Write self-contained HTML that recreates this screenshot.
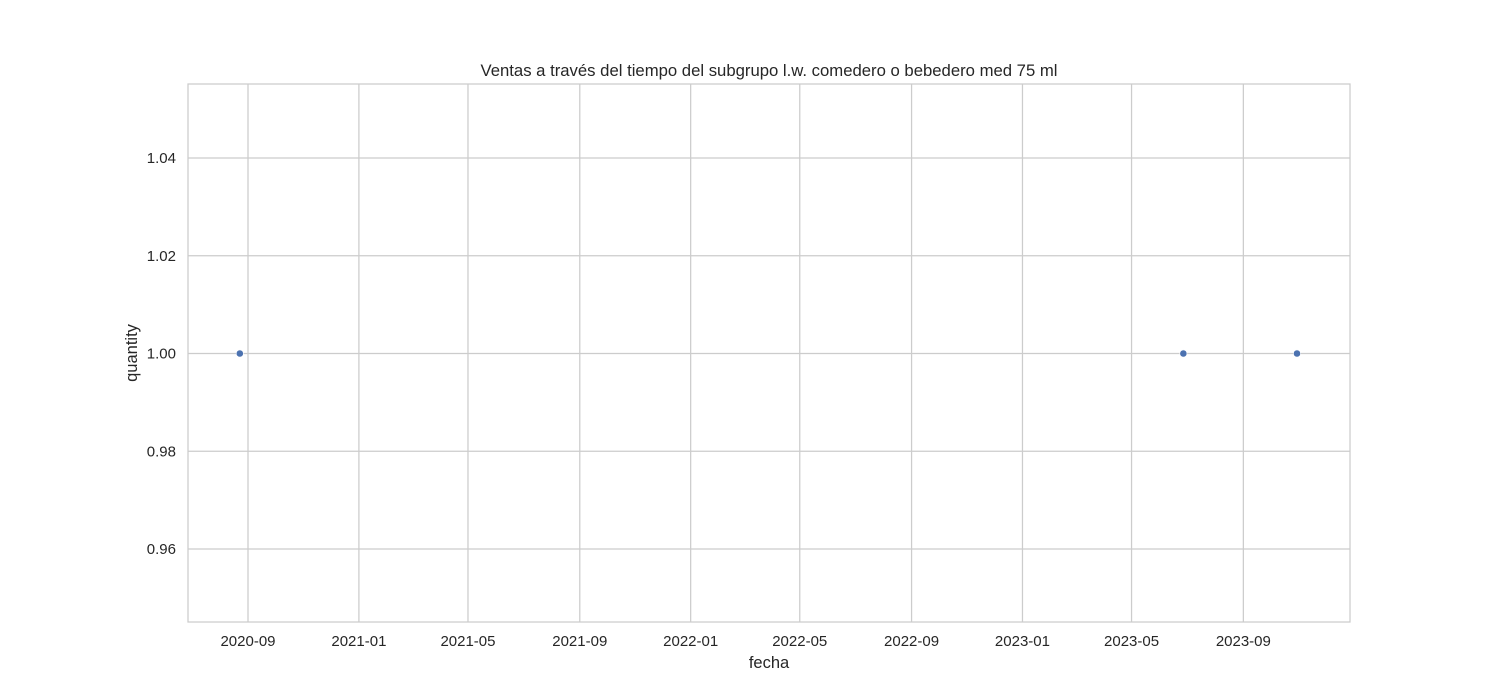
<!DOCTYPE html>
<html><head><meta charset="utf-8"><style>
body{margin:0;background:#fff;}
svg{display:block;font-family:"Liberation Sans","DejaVu Sans",sans-serif;}
</style></head><body>
<svg id="chart" width="1500" height="700">
<text x="769" y="76" text-anchor="middle" font-size="16.7" fill="#262626">Ventas a través del tiempo del subgrupo l.w. comedero o bebedero med 75 ml</text>
<g id="grid"></g>
<rect x="188" y="84" width="1162" height="538" fill="none" stroke="#cccccc" stroke-width="1.25"/>
<g id="marks"></g>
<text x="769" y="668" text-anchor="middle" font-size="16.5" fill="#262626">fecha</text>
<text transform="translate(137,353) rotate(-90)" text-anchor="middle" font-size="16.5" fill="#262626">quantity</text>
</svg>
<script>
const xTickLabels=["2020-09","2021-01","2021-05","2021-09","2022-01","2022-05","2022-09","2023-01","2023-05","2023-09"];
const yTickValues=[0.96,0.98,1.00,1.02,1.04];
const pointDates=["2020-08-23","2023-06-27","2023-10-30"];
const pointValues=[1,1,1];
const NS="http://www.w3.org/2000/svg";
const DAY=86400000;
const origin=Date.UTC(2020,8,1);
function xScale(s){const p=s.split("-").map(Number);const t=Date.UTC(p[0],p[1]-1,p[2]||1);return 248+(t-origin)/DAY*0.909;}
function yScale(v){return 353.5-(v-1)*4887.5;}
const grid=document.getElementById("grid"),marks=document.getElementById("marks");
function mk(tag,attrs,parent){const e=document.createElementNS(NS,tag);for(const k in attrs)e.setAttribute(k,attrs[k]);parent.appendChild(e);return e;}
xTickLabels.forEach(l=>{
 const x=xScale(l);
 const g=mk("line",{x1:x,x2:x,y1:84,y2:622,stroke:"#cccccc","stroke-width":1.25},grid);
 
 
 const t=mk("text",{x:x,y:646,"text-anchor":"middle","font-size":15,fill:"#262626"},grid);
 t.textContent=l;
 
 
});
yTickValues.forEach(v=>{
 const y=yScale(v);
 const g=mk("line",{x1:188,x2:1350,y1:y,y2:y,stroke:"#cccccc","stroke-width":1.25},grid);
 
 
 const t=mk("text",{x:176,y:y+5,"text-anchor":"end","font-size":15,fill:"#262626"},grid);
 t.textContent=v.toFixed(2);
 
 
});
pointDates.forEach((d,i)=>{
 const c=mk("circle",{cx:xScale(d),cy:yScale(pointValues[i]),r:3.6,fill:"#4c72b0",stroke:"#fff","stroke-width":0.6},marks);
 
 
});
</script>
</body></html>
